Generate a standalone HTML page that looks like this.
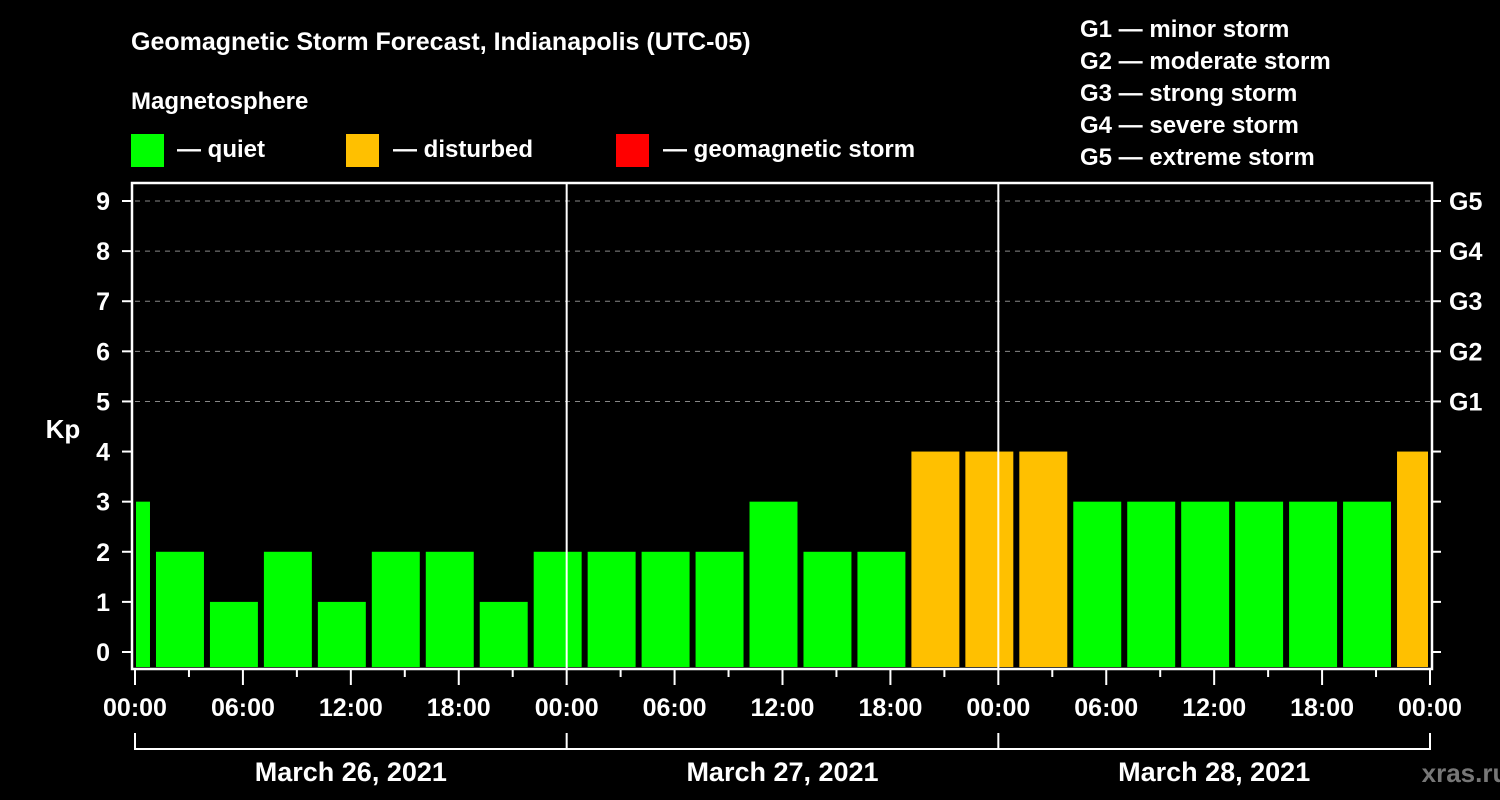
<!DOCTYPE html>
<html><head><meta charset="utf-8"><style>
html,body{margin:0;padding:0;background:#000;width:1500px;height:800px;overflow:hidden}
svg{display:block;font-family:"Liberation Sans",Arial,sans-serif;font-weight:bold}
</style></head><body>
<svg id="chart" width="1500" height="800" viewBox="0 0 1500 800">
<rect width="1500" height="800" fill="#000"/>
<text x="131" y="50" fill="#fff" font-size="25">Geomagnetic Storm Forecast, Indianapolis (UTC-05)</text>
<text x="131" y="109" fill="#fff" font-size="24">Magnetosphere</text>
<g><rect x="131" y="134" width="33" height="33" fill="#00ff00"/><text x="177" y="157" fill="#fff" font-size="24">— quiet</text></g>
<g><rect x="346" y="134" width="33" height="33" fill="#ffc000"/><text x="393" y="157" fill="#fff" font-size="24">— disturbed</text></g>
<g><rect x="616" y="134" width="33" height="33" fill="#ff0000"/><text x="663" y="157" fill="#fff" font-size="24">— geomagnetic storm</text></g>
<g fill="#fff" font-size="24">
<text x="1080" y="37">G1 — minor storm</text>
<text x="1080" y="69">G2 — moderate storm</text>
<text x="1080" y="101">G3 — strong storm</text>
<text x="1080" y="133">G4 — severe storm</text>
<text x="1080" y="165">G5 — extreme storm</text>
</g>
<text x="63" y="438" fill="#fff" font-size="26" text-anchor="middle">Kp</text>
<g id="grid"></g><g id="bars"></g><g id="axes"></g>
<text x="1465" y="782" fill="#777" font-size="26" text-anchor="middle">xras.ru</text>
</svg>
<script>
const kpValues=[3,2,1,2,1,2,2,1,2,2,2,2,3,2,2,4,4,4,3,3,3,3,3,3,4];
const barStartHours=[-2,1,4,7,10,13,16,19,22,25,28,31,34,37,40,43,46,49,52,55,58,61,64,67,70];
const yTicks=[0,1,2,3,4,5,6,7,8,9];
const gLabels=["G1","G2","G3","G4","G5"];
const gLevels=[5,6,7,8,9];
const xTickLabels=["00:00","06:00","12:00","18:00","00:00","06:00","12:00","18:00","00:00","06:00","12:00","18:00","00:00"];
const dayLabels=["March 26, 2021","March 27, 2021","March 28, 2021"];
const NS="http://www.w3.org/2000/svg";
const X0=135,X1=1430,Y0=652,Y9=201,TOP=183,BOT=669;
const x=h=>X0+h*(X1-X0)/72;
const y=v=>Y0+v*(Y9-Y0)/9;
function mk(tag,attrs,parent,txt){const e=document.createElementNS(NS,tag);for(const k in attrs)e.setAttribute(k,attrs[k]);if(txt!==undefined)e.textContent=txt;parent.appendChild(e);return e;}
const grid=document.getElementById('grid'),bars=document.getElementById('bars'),axes=document.getElementById('axes');
yTicks.forEach(v=>{
 if(v>=5){const l=mk('line',{x1:X0,x2:X1,y1:y(v),y2:y(v),stroke:'#888','stroke-width':1,'stroke-dasharray':'5,5'},grid);
 
 }
 const t=mk('line',{x1:122,x2:131,y1:y(v),y2:y(v),stroke:'#fff','stroke-width':2},axes);
 
 
 const r=mk('line',{x1:1432,x2:1441,y1:y(v),y2:y(v),stroke:'#fff','stroke-width':2},axes);
 
 
 const lb=mk('text',{x:110,y:y(v)+9,fill:'#fff','font-size':25,'text-anchor':'end'},axes,String(v));
 
 
});
gLevels.forEach((v,i)=>{
 const lb=mk('text',{x:1449,y:y(v)+9,fill:'#fff','font-size':25},axes,gLabels[i]);
 
 
});
barStartHours.forEach((h,i)=>{
 const v=kpValues[i];
 let a=Math.max(x(h)+3,X0+1),b=Math.min(x(h+3)-3,X1-2);
 const col=v>=5?'#ff0000':(v>=4?'#ffc000':'#00ff00');
 const r=mk('rect',{x:a,y:y(v),width:b-a,height:BOT-2-y(v),fill:col},bars);
 
 
});
[24,48].forEach(h=>{const l=mk('line',{x1:x(h),x2:x(h),y1:TOP,y2:BOT,stroke:'#fff','stroke-width':2},axes);
 
 });
const fr=mk('rect',{x:132,y:TOP,width:1300,height:BOT-TOP,fill:'none',stroke:'#fff','stroke-width':2.5},axes);


for(let h=0;h<=72;h+=3){
 const major=h%6===0;
 const t=mk('line',{x1:x(h),x2:x(h),y1:BOT,y2:BOT+(major?16:8),stroke:'#fff','stroke-width':2},axes);
 
 
}
xTickLabels.forEach((s,i)=>{
 const t=mk('text',{x:x(i*6),y:716,fill:'#fff','font-size':25,'text-anchor':'middle'},axes,s);
 
 
});
const br=mk('path',{d:`M${x(0)},733V749H${x(72)}V733M${x(24)},733V749M${x(48)},733V749`,stroke:'#fff','stroke-width':2,fill:'none'},axes);


dayLabels.forEach((s,i)=>{
 const t=mk('text',{x:x(i*24+12),y:781,fill:'#fff','font-size':27,'text-anchor':'middle'},axes,s);
 
 
});
</script>
</body></html>
